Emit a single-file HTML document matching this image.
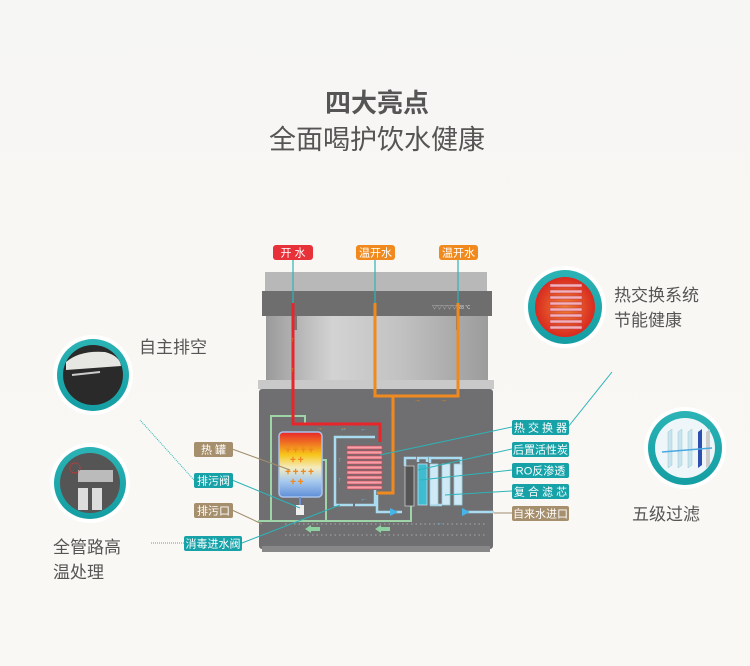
<!DOCTYPE html>
<html><head><meta charset="utf-8"><style>
html,body{margin:0;padding:0;background:#f8f7f4;}
svg{display:block}
text{font-family:"Liberation Sans","Noto Sans CJK SC",sans-serif;}
</style></head><body>
<svg width="750" height="666" viewBox="0 0 750 666" xmlns="http://www.w3.org/2000/svg">
<defs>
<linearGradient id="bg" x1="0" y1="0" x2="0" y2="1"><stop offset="0" stop-color="#f6f6f4"/><stop offset="0.4" stop-color="#f9f7f3"/><stop offset="1" stop-color="#faf8f4"/></linearGradient>
<linearGradient id="tank" x1="0" y1="0" x2="0" y2="1"><stop offset="0" stop-color="#e8252a"/><stop offset="0.35" stop-color="#f7c61a"/><stop offset="0.55" stop-color="#f4ecc0"/><stop offset="0.75" stop-color="#a9cbee"/><stop offset="1" stop-color="#5f8fd8"/></linearGradient>
<linearGradient id="upper" x1="0" y1="0" x2="1" y2="0"><stop offset="0" stop-color="#9a9a9a"/><stop offset="0.3" stop-color="#d3d3d3"/><stop offset="0.6" stop-color="#c2c2c2"/><stop offset="1" stop-color="#9c9c9c"/></linearGradient>
<linearGradient id="ring" x1="0" y1="0" x2="0" y2="1"><stop offset="0" stop-color="#2bb3b5"/><stop offset="1" stop-color="#149ea3"/></linearGradient>
<radialGradient id="hot" cx="0.5" cy="0.5" r="0.5"><stop offset="0" stop-color="#f08030"/><stop offset="1" stop-color="#d82a20"/></radialGradient>
</defs>
<rect width="750" height="666" fill="url(#bg)"/>
<text x="377" y="112" font-size="26" font-weight="bold" fill="#555" text-anchor="middle">四大亮点</text>
<text x="377" y="149" font-size="27" fill="#555" text-anchor="middle">全面喝护饮水健康</text>

<!-- machine upper -->
<rect x="265" y="272" width="222" height="20" fill="#b8b8b8"/>
<rect x="262" y="291" width="230" height="25" fill="#6e6e6e"/>
<rect x="266" y="316" width="222" height="64" fill="url(#upper)"/>
<rect x="294" y="316" width="3" height="14" fill="#777"/><rect x="456" y="316" width="3" height="14" fill="#777"/>
<text x="432" y="309" font-size="5" fill="#ddd">▽▽▽▽▽ 28 ℃</text>
<rect x="258" y="380" width="236" height="9" fill="#c9c9c9"/>
<rect x="259" y="389" width="234" height="160" rx="3" fill="#6f6f71"/>
<rect x="262" y="546" width="228" height="6" fill="#888"/>
<!-- dotted rows -->
<line x1="285" y1="524" x2="485" y2="524" stroke="#aaa" stroke-width="1" stroke-dasharray="1.5 3"/>
<line x1="285" y1="535" x2="485" y2="535" stroke="#aaa" stroke-width="1" stroke-dasharray="1.5 3"/>
<path d="M305 529 l6 -4 v8z M375 529 l6 -4 v8z" fill="#8fd0a0"/>
<rect x="310" y="527" width="10" height="4" fill="#8fd0a0"/><rect x="380" y="527" width="10" height="4" fill="#8fd0a0"/>
<!-- green pipes -->
<path d="M258 521 H411 V505 M271 521 V416 H300 M300 416 H305 V425 M322 460 H326 V521" fill="none" stroke="#9fd3a8" stroke-width="2"/>
<!-- light blue pipes -->
<path d="M375 437 H335 V505 H353 M355 505 H375 V490 M377 495 V512 H402 M462 512 H494 M418 462 V458 H427 V462 M430 463 V458 H461 V505 M442 505 H430 M405 466 V458 H416" fill="none" stroke="#a9dcf0" stroke-width="2.5"/>
<path d="M470 512 l-8 -4 v8z M398 512 l-8 -4 v8z" fill="#46b4e6"/>
<!-- red pipe -->
<path d="M293 303 V424 H380 V442" fill="none" stroke="#e8252a" stroke-width="3"/>
<!-- orange pipes -->
<path d="M375 303 V396 H458 V303 M393 396 V493 H377" fill="none" stroke="#f08a1e" stroke-width="3"/>
<!-- tank -->
<rect x="279" y="432" width="43" height="65" rx="4" fill="url(#tank)" stroke="#a8c3ea" stroke-width="1.5"/>
<line x1="300" y1="497" x2="300" y2="507" stroke="#6c8fd6" stroke-width="2"/>
<rect x="296" y="505" width="8" height="10" fill="#eee"/>
<g fill="#f08a1e" font-size="6"><text x="285" y="452">✚ ✚ ✚ ✚</text><text x="290" y="462">✚  ✚</text><text x="285" y="474">✚ ✚ ✚ ✚</text><text x="290" y="484">✚  ✚</text></g>
<!-- coil -->
<g fill="#f3a0a8" stroke="#d64050" stroke-width="0.6">
<rect x="347" y="446" width="35" height="3"/><rect x="347" y="451" width="35" height="3"/><rect x="347" y="456" width="35" height="3"/><rect x="347" y="461" width="35" height="3"/><rect x="347" y="466" width="35" height="3"/><rect x="347" y="471" width="35" height="3"/><rect x="347" y="476" width="35" height="3"/><rect x="347" y="481" width="35" height="3"/><rect x="347" y="486" width="35" height="3"/>
</g>
<!-- filters -->
<rect x="405" y="466" width="9" height="40" fill="#555" stroke="#ccc" stroke-width="0.8"/>
<rect x="418" y="464" width="9" height="41" fill="#3fbcd0" stroke="#bde" stroke-width="0.8"/>
<rect x="430" y="464" width="8" height="41" fill="#cfe9f6" stroke="#9cd" stroke-width="0.8"/>
<rect x="442" y="464" width="8" height="41" fill="#cfe9f6" stroke="#9cd" stroke-width="0.8"/>
<rect x="454" y="464" width="8" height="41" fill="#cfe9f6" stroke="#9cd" stroke-width="0.8"/>
<!-- small arrows -->
<g fill="#f08a1e" font-size="7"><text x="291" y="342">↑</text><text x="291" y="372">↑</text><text x="373" y="342">↑</text><text x="373" y="372">↑</text><text x="456" y="342">↑</text><text x="456" y="372">↑</text><text x="414" y="402">→</text><text x="440" y="402">→</text><text x="316" y="430">→</text><text x="340" y="430">→</text><text x="390" y="418">↑</text><text x="390" y="472">↑</text></g>
<g fill="#5cc0ee" font-size="7"><text x="340" y="431">←</text><text x="360" y="431">←</text><text x="338" y="462">↑</text><text x="338" y="482">↑</text><text x="360" y="501">←</text><text x="426" y="458">←</text><text x="436" y="525">←</text></g>

<!-- top labels -->
<line x1="293" y1="259" x2="293" y2="303" stroke="#2cb4b8" stroke-width="1.2"/>
<line x1="375" y1="259" x2="375" y2="303" stroke="#2cb4b8" stroke-width="1.2"/>
<line x1="458" y1="259" x2="458" y2="303" stroke="#2cb4b8" stroke-width="1.2"/>
<rect x="273" y="245" width="40" height="15" rx="3" fill="#e8323a"/><text x="293" y="256.5" font-size="11" fill="#fff" text-anchor="middle">开  水</text>
<rect x="356" y="245" width="39" height="15" rx="3" fill="#f08a1e"/><text x="375.5" y="256.5" font-size="11" fill="#fff" text-anchor="middle">温开水</text>
<rect x="439" y="245" width="39" height="15" rx="3" fill="#f08a1e"/><text x="458.5" y="256.5" font-size="11" fill="#fff" text-anchor="middle">温开水</text>

<!-- right labels and leaders -->
<g stroke="#2cb4b8" stroke-width="1" fill="none">
<path d="M512 427 L380 455"/><path d="M512 449 L418 470"/><path d="M512 470 L420 480"/><path d="M512 491 L445 495"/>
<path d="M568 427 L612 372"/>
<path d="M232 480 L300 508"/><path d="M242 543 L340 505"/>
<path d="M194 480 L140 420" stroke-dasharray="1 1"/>
<path d="M184 543 H150" stroke-dasharray="1 1"/>
</g>
<g stroke="#a08c6e" stroke-width="1" fill="none"><path d="M512 513 H494"/><path d="M232 449 L290 470"/><path d="M232 510 L262 524"/></g>
<g fill="#17a2a8"><rect x="512" y="420" width="57" height="15" rx="2"/><rect x="512" y="442" width="57" height="15" rx="2"/><rect x="512" y="463" width="57" height="15" rx="2"/><rect x="512" y="484" width="57" height="15" rx="2"/>
<rect x="194" y="473" width="39" height="15" rx="2"/><rect x="184" y="536" width="58" height="15" rx="2"/></g>
<g fill="#a68f6c"><rect x="512" y="506" width="57" height="15" rx="2"/><rect x="194" y="442" width="39" height="15" rx="2"/><rect x="194" y="503" width="39" height="15" rx="2"/></g>
<g font-size="11" fill="#fff" text-anchor="middle">
<text x="540.5" y="431.5">热 交 换 器</text><text x="540.5" y="453.5">后置活性炭</text><text x="540.5" y="474.5">RO反渗透</text><text x="540.5" y="495.5">复 合 滤 芯</text><text x="540.5" y="517.5">自来水进口</text>
<text x="213.5" y="453.5">热  罐</text><text x="213.5" y="484.5">排污阀</text><text x="213.5" y="514.5">排污口</text><text x="213" y="547.5">消毒进水阀</text>
</g>

<!-- circles -->
<g>
<circle cx="93" cy="375" r="40" fill="#fff"/><circle cx="93" cy="375" r="36" fill="url(#ring)"/><circle cx="93" cy="375" r="30" fill="#2a2a2a"/>
<path d="M66 362 Q80 350 105 352 Q120 356 121 366 L66 370Z" fill="#e6e6e2"/><line x1="72" y1="375" x2="100" y2="372" stroke="#ccc" stroke-width="2"/>
<circle cx="90" cy="483" r="40" fill="#fff"/><circle cx="90" cy="483" r="36" fill="url(#ring)"/><circle cx="90" cy="483" r="30" fill="#555"/>
<rect x="78" y="470" width="35" height="12" fill="#bbb"/><rect x="78" y="488" width="10" height="22" fill="#ddd"/><rect x="92" y="488" width="10" height="22" fill="#ddd"/><circle cx="75" cy="468" r="5" fill="none" stroke="#e33" stroke-width="1" stroke-dasharray="1 1"/>
<circle cx="565" cy="307" r="41" fill="#fff"/><circle cx="565" cy="307" r="37" fill="url(#ring)"/><circle cx="565" cy="307" r="30" fill="url(#hot)"/>
<g fill="#f3b0b8" stroke="#c03a4a" stroke-width="0.5"><rect x="550" y="284" width="32" height="3"/><rect x="550" y="290" width="32" height="3"/><rect x="550" y="296" width="32" height="3"/><rect x="550" y="302" width="32" height="3"/><rect x="550" y="308" width="32" height="3"/><rect x="550" y="314" width="32" height="3"/><rect x="550" y="320" width="32" height="3"/><rect x="550" y="326" width="32" height="3"/></g>
<circle cx="685" cy="448" r="41" fill="#fff"/><circle cx="685" cy="448" r="37" fill="url(#ring)"/><circle cx="685" cy="448" r="30" fill="#eef6fa"/>
<g fill="#c9e3ef" stroke="#9cc" stroke-width="0.5"><path d="M668 432 l4 -3 v36 l-4 3z"/><path d="M678 432 l4 -3 v36 l-4 3z"/><path d="M688 432 l4 -3 v36 l-4 3z"/></g>
<path d="M698 432 l4 -3 v36 l-4 3z" fill="#2d4fb0"/><path d="M706 432 l4 -3 v36 l-4 3z" fill="#ccc"/>
<line x1="662" y1="452" x2="712" y2="448" stroke="#4aa8e0" stroke-width="1.5"/>
</g>
<g font-size="17" fill="#555">
<text x="139" y="353">自主排空</text>
<text x="53" y="553">全管路高</text><text x="53" y="578">温处理</text>
<text x="614" y="301">热交换系统</text><text x="614" y="326">节能健康</text>
<text x="632" y="520">五级过滤</text>
</g>
</svg>
</body></html>
